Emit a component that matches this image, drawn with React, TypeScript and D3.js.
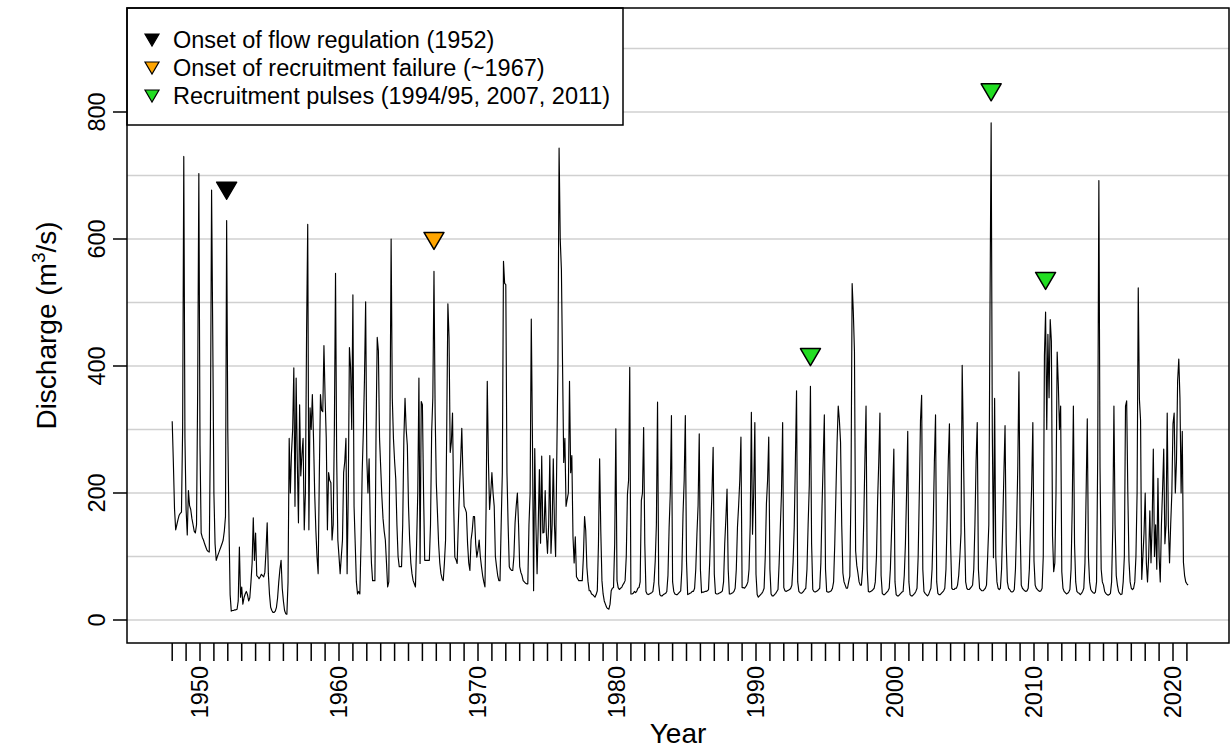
import React from 'react';
import * as d3 from 'd3';

// monthly discharge (m3/s), Jan..Dec for each year
const flow1948to1955 = [
  313, 248, 175, 142, 150, 158, 165, 168, 170, 300, 730, 286,
  174, 134, 204, 180, 174, 160, 150, 140, 137, 150, 365, 703,
  275, 137, 130, 126, 120, 115, 110, 108, 107, 300, 677, 450,
  200, 120, 94, 100, 105, 110, 115, 120, 126, 140, 163, 629,
  296, 153, 40, 14, 15, 15, 16, 16, 17, 30, 115, 36,
  52, 25, 35, 41, 45, 40, 30, 35, 60, 90, 161, 94,
  137, 70, 68, 65, 68, 72, 70, 68, 75, 110, 153, 73,
  40, 20, 15, 12, 12, 14, 20, 35, 60, 80, 94, 50,
];
const flow1956to1963 = [
  30, 15, 10, 9, 60, 286, 200, 264, 300, 397, 179, 381,
  250, 153, 339, 227, 260, 286, 142, 200, 450, 623, 142, 334,
  300, 355, 286, 200, 142, 100, 73, 227, 355, 330, 328, 432,
  350, 286, 142, 232, 220, 216, 126, 150, 300, 546, 254, 126,
  100, 73, 100, 126, 232, 250, 286, 73, 200, 429, 397, 300,
  512, 179, 120, 60, 41, 45, 41, 120, 232, 296, 380, 501,
  254, 200, 254, 150, 90, 62, 62, 62, 300, 445, 424, 286,
  240, 195, 160, 140, 126, 90, 52, 60, 300, 600, 350, 286,
];
const flow1964to1971 = [
  250, 222, 150, 100, 84, 84, 84, 150, 286, 349, 300, 275,
  179, 126, 90, 73, 62, 57, 52, 120, 200, 381, 89, 344,
  339, 200, 94, 94, 94, 94, 94, 150, 296, 350, 549, 326,
  216, 169, 120, 90, 73, 65, 62, 90, 126, 300, 498, 445,
  264, 280, 326, 180, 99, 95, 89, 150, 206, 250, 302, 230,
  179, 175, 169, 120, 90, 78, 126, 140, 163, 163, 120, 99,
  110, 126, 100, 84, 70, 60, 52, 179, 376, 250, 174, 200,
  232, 200, 179, 100, 84, 70, 62, 62, 150, 232, 565, 530,
];
const flow1972to1979 = [
  528, 232, 150, 84, 80, 78, 78, 100, 153, 180, 200, 150,
  84, 75, 70, 62, 60, 58, 57, 57, 150, 200, 474, 286,
  46, 270, 150, 73, 150, 237, 121, 258, 137, 138, 204, 137,
  105, 150, 259, 105, 150, 254, 150, 100, 254, 400, 743, 599,
  552, 400, 248, 286, 179, 190, 200, 376, 232, 259, 131, 90,
  131, 68, 65, 62, 62, 62, 62, 100, 163, 141, 83, 60,
  46, 46, 41, 40, 38, 36, 40, 46, 120, 254, 141, 62,
  41, 30, 25, 20, 18, 17, 25, 46, 50, 51, 120, 301,
];
const flow1980s = [
  62, 51, 48, 50, 51, 55, 58, 62, 100, 198, 220, 398,
  41, 41, 42, 45, 43, 45, 50, 51, 60, 188, 200, 303,
  120, 45, 41, 40, 41, 42, 43, 45, 60, 93, 150, 343,
  57, 40, 38, 38, 40, 41, 42, 45, 70, 146, 200, 322,
  60, 45, 41, 40, 40, 42, 44, 46, 80, 167, 220, 322,
  93, 40, 41, 42, 43, 45, 45, 50, 80, 135, 180, 293,
  80, 43, 44, 44, 45, 45, 46, 48, 90, 150, 200, 272,
  72, 42, 41, 41, 42, 43, 44, 46, 60, 120, 160, 206,
  80, 41, 41, 42, 43, 45, 50, 80, 146, 180, 220, 288,
  51, 51, 50, 52, 55, 60, 80, 150, 327, 135, 200, 311,
];
const flow1990s = [
  72, 40, 36, 38, 40, 42, 45, 50, 100, 183, 220, 288,
  80, 41, 38, 38, 40, 42, 45, 48, 90, 146, 200, 311,
  51, 46, 45, 46, 47, 48, 50, 55, 90, 146, 250, 361,
  60, 45, 43, 42, 43, 45, 48, 50, 80, 150, 212, 368,
  120, 48, 45, 44, 45, 46, 48, 50, 90, 178, 250, 323,
  80, 45, 44, 44, 45, 46, 50, 60, 120, 200, 280, 337,
  314, 280, 150, 74, 60, 55, 50, 50, 60, 69, 200, 530,
  486, 423, 109, 86, 74, 60, 55, 55, 80, 155, 250, 337,
  80, 45, 44, 45, 46, 48, 50, 60, 100, 189, 250, 326,
  70, 42, 40, 40, 42, 44, 46, 50, 80, 138, 200, 269,
];
const flow2000s = [
  60, 40, 38, 38, 40, 42, 44, 45, 70, 120, 200, 297,
  60, 40, 38, 38, 40, 42, 45, 50, 100, 200, 314, 354,
  80, 45, 42, 40, 38, 40, 45, 50, 80, 150, 250, 323,
  60, 42, 40, 40, 42, 44, 46, 50, 80, 160, 250, 309,
  120, 50, 48, 48, 50, 50, 55, 70, 100, 137, 401, 280,
  150, 60, 50, 48, 48, 50, 52, 55, 80, 150, 250, 311,
  80, 50, 48, 46, 46, 48, 50, 55, 100, 150, 485, 783,
  300, 98, 349, 100, 60, 50, 48, 50, 80, 150, 230, 306,
  120, 60, 50, 48, 45, 44, 45, 48, 80, 150, 240, 391,
  150, 55, 50, 48, 46, 45, 46, 50, 80, 150, 212, 311,
];
const flow2010s = [
  93, 55, 50, 48, 46, 45, 46, 50, 100, 416, 485, 300,
  450, 350, 473, 439, 132, 76, 90, 200, 422, 371, 300, 337,
  76, 50, 45, 43, 41, 42, 44, 48, 80, 178, 337, 120,
  60, 45, 43, 42, 40, 42, 45, 50, 90, 200, 317, 100,
  60, 48, 45, 43, 42, 44, 60, 257, 692, 240, 80, 60,
  55, 45, 42, 40, 39, 40, 42, 60, 145, 337, 150, 70,
  55, 45, 42, 40, 41, 60, 100, 337, 345, 200, 93, 60,
  50, 48, 50, 60, 100, 200, 523, 348, 314, 64, 100, 137,
  200, 90, 60, 100, 172, 90, 150, 269, 100, 150, 80, 223,
  100, 60, 150, 206, 269, 120, 150, 326, 150, 90, 150, 200,
];
const flow2020s = [
  309, 326, 200, 250, 377, 411, 349, 200, 297, 91, 70, 60,
  57, 55,
];
const firstYear = 1948;

// event markers: year and month (0-based) of the peak, height of the triangle
const markerYear = [1951, 1966, 1993, 2006, 2010];
const markerMonth = [11, 10, 11, 11, 10];
const markerHeight = [676, 597, 414, 831, 534];
const markerFill = ['#000000', '#ffa500', '#22dd22', '#22dd22', '#22dd22'];

const legendLabels = [
  'Onset of flow regulation (1952)',
  'Onset of recruitment failure (~1967)',
  'Recruitment pulses (1994/95, 2007, 2011)',
];
const legendFill = ['#000000', '#ffa500', '#22dd22'];

const yTicks = [0, 200, 400, 600, 800];
const yGrid = [0, 100, 200, 300, 400, 500, 600, 700, 800, 900];
const xTickYears = d3.range(1948, 2022);
const xLabelYears = [1950, 1960, 1970, 1980, 1990, 2000, 2010, 2020];

const font = 'Liberation Sans, Arial, Helvetica, sans-serif';

function triangle(cx, cy, w, h) {
  return `M${cx - w / 2},${cy - h / 2}L${cx + w / 2},${cy - h / 2}L${cx},${cy + h / 2}Z`;
}

export default function App() {
  const width = 1230;
  const height = 751;
  const box = {left: 127, right: 1229, top: 8, bottom: 643};

  const x = d3.scaleLinear().domain([1950, 2020]).range([200, 1173]);
  const y = d3.scaleLinear().domain([0, 800]).range([620, 112]);

  const flow = [
    ...flow1948to1955, ...flow1956to1963, ...flow1964to1971, ...flow1972to1979,
    ...flow1980s, ...flow1990s, ...flow2000s, ...flow2010s, ...flow2020s,
  ];
  const series = flow.map((v, i) => ({t: firstYear + i / 12, v}));
  const line = d3.line().x(d => x(d.t)).y(d => y(d.v));

  const legendRows = [40, 68, 96];

  return (
    <svg width={width} height={height} style={{position: 'absolute', left: 0, top: 0, background: '#fff'}}>
      {/* grid */}
      {yGrid.map(g => (
        <line key={g} x1={box.left} x2={box.right} y1={y(g)} y2={y(g)} stroke="#d0d0d0" strokeWidth={1.5} />
      ))}

      {/* discharge */}
      <path d={line(series)} fill="none" stroke="#000" strokeWidth={1.15} strokeLinejoin="round" />

      {/* markers */}
      {markerYear.map((yr, i) => (
        <path
          key={yr}
          d={triangle(x(yr + markerMonth[i] / 12), y(markerHeight[i]), 20, 17)}
          fill={markerFill[i]}
          stroke="#000"
          strokeWidth={1.5}
          strokeLinejoin="round"
        />
      ))}

      {/* legend */}
      <rect x={box.left} y={box.top} width={496} height={117} fill="#fff" stroke="#000" strokeWidth={1.5} />
      {legendLabels.map((lab, i) => (
        <g key={lab}>
          <path d={triangle(152, legendRows[i], 14, 12)} fill={legendFill[i]} stroke="#000" strokeWidth={1.2} />
          <text x={173} y={legendRows[i]} dominantBaseline="central" fontFamily={font} fontSize={23.5} fill="#000">
            {lab}
          </text>
        </g>
      ))}

      {/* plot box */}
      <rect x={box.left} y={box.top} width={box.right - box.left} height={box.bottom - box.top} fill="none" stroke="#000" strokeWidth={1.5} />

      {/* y axis */}
      {yTicks.map(t => (
        <g key={t}>
          <line x1={box.left} x2={box.left - 14} y1={y(t)} y2={y(t)} stroke="#000" strokeWidth={1.5} />
          <text
            transform={`translate(105,${y(t)}) rotate(-90)`}
            textAnchor="middle"
            fontFamily={font}
            fontSize={23.5}
            fill="#000"
          >
            {t}
          </text>
        </g>
      ))}
      <text transform={`translate(56,${(box.top + box.bottom) / 2}) rotate(-90)`} textAnchor="middle" fontFamily={font} fontSize={28} fill="#000">
        Discharge (m<tspan dy={-11} fontSize={19}>3</tspan><tspan dy={11}>/s)</tspan>
      </text>

      {/* x axis */}
      {xTickYears.map(yr => (
        <line key={yr} x1={x(yr)} x2={x(yr)} y1={box.bottom} y2={box.bottom + 18} stroke="#000" strokeWidth={1.5} />
      ))}
      {xLabelYears.map(yr => (
        <text
          key={yr}
          transform={`translate(${x(yr)},666) rotate(-90)`}
          textAnchor="end"
          dominantBaseline="central"
          fontFamily={font}
          fontSize={23.5}
          fill="#000"
        >
          {yr}
        </text>
      ))}
      <text x={(box.left + box.right) / 2} y={743} textAnchor="middle" fontFamily={font} fontSize={28} fill="#000">
        Year
      </text>
    </svg>
  );
}
